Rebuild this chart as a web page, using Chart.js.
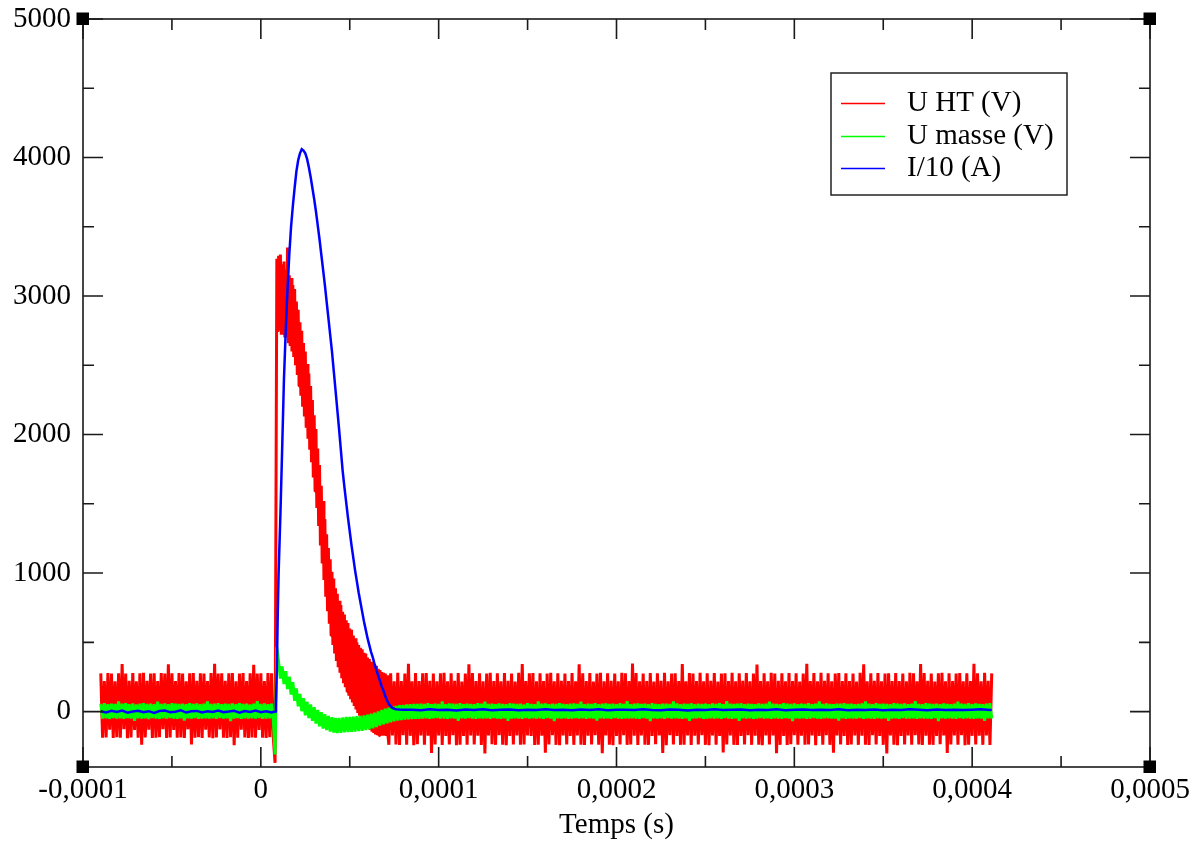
<!DOCTYPE html>
<html><head><meta charset="utf-8">
<script src="https://cdn.jsdelivr.net/npm/chart.js@4.4.1/dist/chart.umd.min.js"></script>
<style>html,body{margin:0;padding:0;background:#fff}canvas{display:block}</style>
</head><body>
<canvas id="c" width="1192" height="844"></canvas>
<script>
const SERIES_LABELS = ['U HT (V)', 'U masse (V)', 'I/10 (A)'];
const X_TICKS = [-0.0001, 0, 0.0001, 0.0002, 0.0003, 0.0004, 0.0005];
const X_TICK_LABELS = ['-0,0001', '0', '0,0001', '0,0002', '0,0003', '0,0004', '0,0005'];
const Y_TICKS = [0, 1000, 2000, 3000, 4000, 5000];
const Y_TICK_LABELS = ['0', '1000', '2000', '3000', '4000', '5000'];
const X_TITLE = 'Temps (s)';
const X_MIN = -0.0001, X_MAX = 0.0005, Y_MIN = -400, Y_MAX = 5000;

// U HT (V): three recorded segments (start time and sample step in microseconds)
const U_HT_PRE_START_US = -90, U_HT_PRE_STEP_US = 1;
const U_HT_PRE = [
276,-188,221,-186,279,-131,274,-190,218,-185,277,-189,344,-128,275,-192,222,-187,278,-133,
219,-189,276,-240,280,-186,223,-130,275,-191,277,-188,220,-185,279,-127,274,-190,341,-187,
276,-132,221,-189,278,-186,275,-191,218,-128,277,-238,279,-188,222,-185,276,-190,274,-131,
220,-187,278,-192,346,-186,275,-129,277,-189,223,-190,276,-185,279,-242,219,-188,275,-131,
278,-187,221,-190,276,-186,338,-189,274,-132,277,-188,220,-191,279,-185,276,-187,
-370
];
const U_HT_PULSE_START_US = 9, U_HT_PULSE_STEP_US = 0.5;
const U_HT_PULSE = [
3270,2740,3290,2750,3300,2720,3230,2730,3250,2700,3190,2700,3350,2660,3150,2640,3130,2600,3080,2560,
3050,2500,2960,2430,2900,2350,2810,2280,2750,2200,2660,2130,2600,2050,2510,1970,2440,1890,2350,1800,
2250,1690,2140,1590,2040,1470,1900,1340,1780,1200,1630,1070,1520,950,1390,830,1280,725,1180,635,
1100,550,1010,480,960,420,890,365,850,320,800,280,770,240,720,205,700,175,660,145,
640,115,600,90,590,65,550,40,530,15,500,-10,480,-30,460,-50,450,-67,425,-82,
420,-100,390,-117,380,-132,360,-145,350,-155,340,-165,330,-170,310,-172,300,-174,285,-175,
280,-173,275,-176,262,-174
];
const U_HT_POST_START_US = 72, U_HT_POST_STEP_US = 1;
const U_HT_POST = [
-240,277,-173,219,-238,280,-241,221,-171,275,-239,345,-175,218,-242,278,-236,220,-172,276,
-240,279,-174,222,-299,274,-238,218,-172,277,-241,281,-176,219,-237,276,-170,223,-243,278,
-239,217,-175,275,-240,342,-172,279,-238,220,-174,277,-241,218,-303,274,-173,280,-236,221,
-240,276,-171,219,-239,278,-242,222,-175,275,-237,217,-173,281,-240,344,-238,220,-172,277,
-176,279,-241,218,-239,276,-174,221,-296,274,-238,280,-171,219,-240,277,-243,223,-173,275,
-237,220,-175,278,-240,218,-172,341,-239,276,-241,221,-174,279,-238,217,-170,275,-240,280,
-301,219,-173,277,-239,222,-242,274,-176,218,-238,281,-171,276,-240,220,-237,347,-174,278,
-241,219,-172,275,-239,221,-240,279,-175,217,-236,276,-173,222,-298,280,-242,218,-171,274,
-238,277,-176,220,-240,343,-239,219,-172,278,-241,275,-174,221,-237,280,-170,218,-240,276,
-243,222,-173,279,-239,217,-175,274,-295,277,-238,220,-172,281,-240,219,-241,276,-176,223,
-237,278,-171,218,-240,275,-174,340,-239,221,-242,277,-173,219,-238,280,-172,274,-300,222,
-240,276,-175,218,-241,279,-236,221,-170,277,-239,217,-174,275,-240,346,-238,220,-173,278,
-242,219,-176,281,-239,222,-171,276,-240,218,-297,274,-172,279,-238,220,-175,277,-241,221,
-237,275,-173,217,-240,280,-174,342,-239,219,-241,276,-170,222,-238,278,-176,218,-240,274,
-302,277,-172,220,-239,279,-242,221,-175,275,-238,218,-173,281,-240,276,-171,219,-237,344,
-241,278,-174,222,-239,274,-240,217,-176,277,-236,280,-172,219,-299,276,-238,221,-173,275,
-240,279,-171,218,-242,276,-239,220,-175,345,-238,277,-174,219,-240,281,-172,222,-241,276
];

// U masse (V): sampled from -90 µs every 1 µs
const U_MASSE_START_US = -90, U_MASSE_STEP_US = 1;
const U_MASSE = [
56,-50,60,-48,53,-52,58,-47,55,-51,74,-49,57,-53,61,-46,54,-50,59,-67,
52,-48,57,-51,60,-49,55,-54,58,-47,53,-50,72,-52,56,-48,59,-51,54,-46,
61,-50,57,-53,55,-49,58,-65,53,-48,60,-51,56,-47,59,-52,54,-50,57,-48,
73,-51,55,-49,58,-53,61,-46,53,-50,57,-48,56,-69,59,-51,54,-47,60,-52,
55,-49,58,-50,52,-48,57,-51,76,-47,56,-53,59,-50,54,-48,58,-51,
-310,465,
357,238,327,198,292,163,252,123,212,78,167,38,127,3,97,-27,72,-47,52,-67,
32,-87,12,-107,-5,-122,-19,-134,-31,-145,-40,-152,-45,-155,-46,-154,-43,-150,-39,-147,
-38,-146,-36,-144,-33,-141,-31,-139,-28,-134,-23,-128,-15,-120,-7,-111,2,-101,12,-92,
21,-84,29,-77,35,-71,41,-65,46,-61,49,-58,52,-56,54,-54,55,-53,56,-52,
57,-50,55,-48,60,-52,53,-49,58,-47,56,-51,73,-50,54,-53,59,-48,57,-50,
55,-66,61,-49,53,-51,58,-47,56,-50,54,-52,60,-48,57,-51,71,-49,55,-53,
58,-47,53,-50,59,-52,56,-48,54,-67,60,-51,57,-49,55,-50,58,-53,52,-47,
61,-50,56,-48,54,-51,74,-49,57,-52,59,-47,53,-50,58,-68,55,-49,60,-51,
56,-48,54,-53,57,-50,59,-47,55,-51,72,-49,53,-52,58,-48,56,-50,61,-65,
54,-49,57,-51,59,-48,55,-52,58,-47,53,-50,60,-53,56,-49,75,-51,54,-48,
57,-50,59,-52,55,-47,58,-51,53,-69,61,-49,56,-50,54,-48,58,-52,57,-47,
55,-51,73,-49,59,-50,53,-53,57,-48,56,-66,60,-51,54,-49,58,-47,55,-52,
57,-50,53,-48,59,-51,56,-49,61,-53,54,-47,76,-50,58,-52,55,-48,57,-67,
60,-49,54,-51,58,-48,56,-52,53,-50,59,-47,55,-51,57,-49,72,-53,58,-48,
56,-50,54,-52,60,-47,57,-51,55,-68,59,-49,53,-50,58,-48,56,-53,61,-51,
54,-47,57,-50,74,-52,55,-49,59,-48,56,-51,53,-50,58,-65,57,-49,60,-52,
55,-48,58,-51,54,-50,56,-47,59,-53,73,-49,57,-50,53,-52,60,-48,55,-51,
58,-49,56,-67,54,-50,61,-48,57,-52,55,-47,59,-51,53,-50,58,-49,75,-53,
56,-48,54,-51,60,-50,57,-52,55,-47,58,-69,53,-49,59,-51,56,-48,54,-50,
57,-52,72,-47,58,-51,55,-49,60,-50,53,-53,59,-48,56,-51,54,-66,57,-49,
61,-50
];

// I/10 (A): time (microseconds) and value
const I10_T_US = [
-90,-87,-84,-81,-78,-75,-72,-69,-66,-63,-60,-57,-54,-51,-48,-45,-42,-39,-36,-33,
-30,-27,-24,-21,-18,-15,-12,-9,-6,-3,0,3,6,8,
8.5,9,9.5,10,11,12,13,14,15,16,17,18,19,20,21,22,23,24,25,26,27,28,29,30,
31,32,33,34,35,36,37,38,39,40,41,42,43,44,45,46,47,48,49,50,
51,52,53,54,55,56,57,58,59,60,61,62,63,64,65,66,67,68,69,70,
71,72,73,74,75,76,78,80,
85,90,95,100,105,110,115,120,125,130,135,140,145,150,155,160,165,170,175,180,
185,190,195,200,205,210,215,220,225,230,235,240,245,250,255,260,265,270,275,280,
285,290,295,300,305,310,315,320,325,330,335,340,345,350,355,360,365,370,375,380,
385,390,395,400,405,410,411
];
const I10 = [
2,-6,5,-3,8,-8,1,6,-5,3,-9,4,7,-4,-1,9,-7,2,5,-6,
3,-2,8,-5,0,6,-8,4,-3,7,-4,2,-6,0,
60,300,700,1000,1420,1900,2400,2750,3050,3300,3500,3650,3780,3900,3980,4030,4060,4050,4030,3990,3930,3860,3780,3700,
3610,3510,3410,3300,3190,3080,2960,2840,2720,2600,2460,2320,2180,2040,1890,1740,1620,1510,1400,1300,
1200,1110,1020,940,860,790,720,650,590,530,480,430,390,340,300,260,220,180,150,110,
80,55,38,26,20,17,15,14,
14,9,16,11,13,8,15,12,17,10,13,15,9,14,12,16,11,13,10,15,
12,17,9,14,13,11,16,12,10,15,13,8,14,12,16,11,13,15,10,14,
12,17,9,13,15,11,14,12,16,10,13,12,15,9,14,11,16,13,10,15,
12,14,11,13,16,12,13
];

const FONT_FAMILY = "'Liberation Serif', 'Times New Roman', serif";

const sampledPoints = (startUs, stepUs, vals) => vals.map((v, i) => ({ x: (startUs + i * stepUs) * 1e-6, y: v }));
const timedPoints = (ts, vals) => {
  const n = Math.min(ts.length, vals.length);
  const out = [];
  for (let i = 0; i < n; i++) out.push({ x: ts[i] * 1e-6, y: vals[i] });
  return out;
};
const uhtPoints = [].concat(
  sampledPoints(U_HT_PRE_START_US, U_HT_PRE_STEP_US, U_HT_PRE),
  sampledPoints(U_HT_PULSE_START_US, U_HT_PULSE_STEP_US, U_HT_PULSE),
  sampledPoints(U_HT_POST_START_US, U_HT_POST_STEP_US, U_HT_POST)
);

const axisFrame = {
  id: 'axisFrame',
  afterDatasetsDraw(chart) {
    const { ctx, chartArea: a, scales: { x, y } } = chart;
    const MAJ = 20, MIN = 11;
    ctx.save();
    ctx.strokeStyle = '#1a1a1a';
    ctx.lineWidth = 1.6;
    ctx.beginPath();
    const seg = (x1, y1, x2, y2) => { ctx.moveTo(x1, y1); ctx.lineTo(x2, y2); };
    X_TICKS.forEach((v, i) => {
      const p = x.getPixelForValue(v);
      seg(p, a.bottom, p, a.bottom - MAJ); seg(p, a.top, p, a.top + MAJ);
      if (i < X_TICKS.length - 1) {
        const m = x.getPixelForValue((v + X_TICKS[i + 1]) / 2);
        seg(m, a.bottom, m, a.bottom - MIN); seg(m, a.top, m, a.top + MIN);
      }
    });
    Y_TICKS.forEach((v, i) => {
      const p = y.getPixelForValue(v);
      seg(a.left, p, a.left + MAJ, p); seg(a.right, p, a.right - MAJ, p);
      if (i < Y_TICKS.length - 1) {
        const m = y.getPixelForValue((v + Y_TICKS[i + 1]) / 2);
        seg(a.left, m, a.left + MIN, m); seg(a.right, m, a.right - MIN, m);
      }
    });
    ctx.stroke();
    ctx.strokeRect(a.left, a.top, a.right - a.left, a.bottom - a.top);
    ctx.fillStyle = '#000';
    [[a.left, a.top], [a.right, a.top], [a.left, a.bottom], [a.right, a.bottom]].forEach(([cx, cy]) => {
      ctx.fillRect(cx - 6.5, cy - 6.5, 12.5, 12.5);
    });
    ctx.restore();
  }
};

const boxLegend = {
  id: 'boxLegend',
  afterDraw(chart) {
    const o = chart.options.plugins.boxLegend;
    const { ctx } = chart;
    ctx.save();
    ctx.fillStyle = '#fff';
    ctx.fillRect(o.x, o.y, o.w, o.h);
    ctx.strokeStyle = '#222';
    ctx.lineWidth = 1.5;
    ctx.strokeRect(o.x, o.y, o.w, o.h);
    ctx.font = o.font;
    ctx.textBaseline = 'middle';
    chart.data.datasets.forEach((ds, i) => {
      const yy = Math.round(o.y + o.firstRow + i * o.rowGap) + 0.5;
      ctx.strokeStyle = ds.borderColor;
      ctx.lineWidth = 1.5;
      ctx.beginPath();
      ctx.moveTo(o.x + o.lineX0, yy);
      ctx.lineTo(o.x + o.lineX1, yy);
      ctx.stroke();
      ctx.fillStyle = '#000';
      ctx.fillText(ds.label, o.x + o.textX, yy);
    });
    ctx.restore();
  }
};

new Chart(document.getElementById('c'), {
  type: 'line',
  data: {
    datasets: [
      { label: SERIES_LABELS[0], data: uhtPoints, borderColor: '#ff0000', borderWidth: 3, borderJoinStyle: 'bevel', pointRadius: 0, tension: 0, order: 3 },
      { label: SERIES_LABELS[1], data: sampledPoints(U_MASSE_START_US, U_MASSE_STEP_US, U_MASSE), borderColor: '#00ff00', borderWidth: 3, borderJoinStyle: 'bevel', pointRadius: 0, tension: 0, order: 2 },
      { label: SERIES_LABELS[2], data: timedPoints(I10_T_US, I10), borderColor: '#0000ff', borderWidth: 2.5, pointRadius: 0, tension: 0, order: 1 }
    ]
  },
  options: {
    responsive: false,
    animation: false,
    devicePixelRatio: 1,
    parsing: false,
    normalized: true,
    events: [],
    layout: { padding: { left: 0, right: 42, top: 19, bottom: 0 } },
    plugins: {
      legend: { display: false },
      tooltip: { enabled: false },
      boxLegend: { x: 831, y: 73, w: 236, h: 122, firstRow: 30, rowGap: 32.5, lineX0: 10, lineX1: 54, textX: 76, font: '29px ' + FONT_FAMILY }
    },
    scales: {
      x: {
        type: 'linear', min: X_MIN, max: X_MAX,
        grid: { display: false, drawTicks: false },
        border: { display: false },
        afterBuildTicks: s => { s.ticks = X_TICKS.map(v => ({ value: v })); },
        afterFit: s => { s.height = 77; s.paddingLeft = 0; s.paddingRight = 0; },
        ticks: {
          autoSkip: false, maxRotation: 0, minRotation: 0, padding: 6, color: '#000',
          font: { family: FONT_FAMILY, size: 29 },
          callback: (v, i) => X_TICK_LABELS[i]
        },
        title: { display: true, text: X_TITLE, color: '#000', font: { family: FONT_FAMILY, size: 29 }, padding: { top: 0, bottom: 1 } }
      },
      y: {
        type: 'linear', min: Y_MIN, max: Y_MAX,
        grid: { display: false, drawTicks: false },
        border: { display: false },
        afterBuildTicks: s => { s.ticks = Y_TICKS.map(v => ({ value: v })); },
        afterFit: s => { s.width = 83; s.paddingTop = 0; s.paddingBottom = 0; },
        ticks: {
          autoSkip: false, padding: 12, color: '#000',
          font: { family: FONT_FAMILY, size: 29 },
          callback: (v, i) => Y_TICK_LABELS[i]
        }
      }
    }
  },
  plugins: [axisFrame, boxLegend]
});
</script>
</body></html>
